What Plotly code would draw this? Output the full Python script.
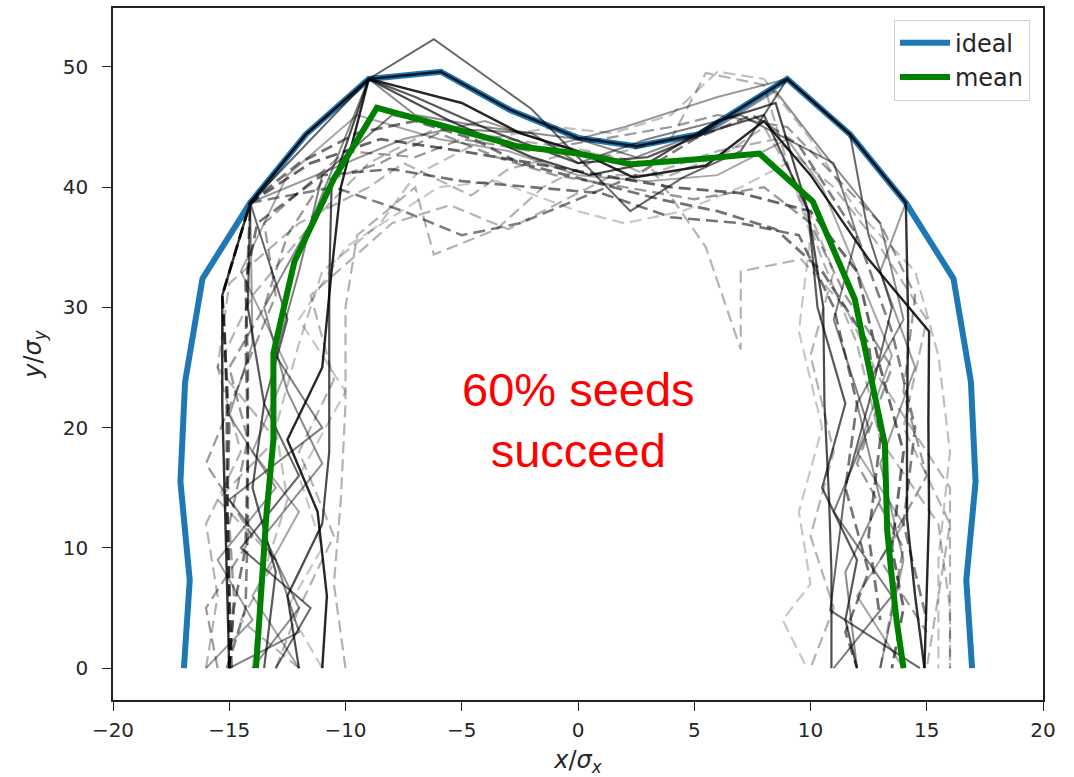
import plotly.graph_objects as go

# ---------------- data ----------------
ideal_x = [-16.95, -16.7, -17.1, -16.9, -16.15, -14.1, -11.7, -9.0, -5.9, -2.9, 0.0,
           2.5, 5.2, 9.0, 11.7, 14.1, 16.15, 16.9, 17.1, 16.7, 16.95]
ideal_y = [0, 7.3, 15.5, 23.8, 32.4, 38.7, 44.4, 49.0, 49.6, 46.4, 44.1,
           43.4, 44.4, 49.0, 44.4, 38.7, 32.4, 23.8, 15.5, 7.3, 0]

mean_x = [-13.85, -13.65, -13.4, -13.1, -13.1, -12.2, -10.5, -8.65, -6.1, -2.6, 0.0,
          2.3, 5.0, 7.8, 10.1, 11.9, 13.2, 13.3, 13.5, 13.7, 14.0]
mean_y = [0, 6.5, 12.8, 19.0, 26.2, 33.8, 40.7, 46.6, 45.2, 43.4, 42.8,
          41.9, 42.3, 42.8, 38.8, 30.7, 18.6, 11.4, 7.5, 4.0, 0]

# successful seeds (solid)
seed_s1_x = [-15.0, -15.1, -15.2, -15.3, -15.3, -14.1, -11.7, -9.0, -5.9, -2.9, 0.0, 2.5, 5.2, 9.0, 11.7, 14.1, 14.2, 14.15, 14.15, 14.5, 14.9]
seed_s1_y = [0, 7, 14, 22, 31, 38.7, 44.4, 49.0, 49.6, 46.4, 44.1, 43.4, 44.4, 49.0, 44.4, 38.7, 29, 20.5, 12.5, 6, 0]
seed_s2_x = [-11.0, -10.8, -11.2, -12.5, -11.0, -10.6, -10.2, -9.0, -5.0, -2.5, 0.0, 2.4, 5.5, 8.0, 10.0, 12.5, 15.1, 15.07, 15.1, 15.0, 14.9]
seed_s2_y = [0, 6, 13, 19, 25, 33, 40, 49.0, 47, 44.5, 43, 40.8, 41.8, 45.5, 41, 34, 28, 20.5, 12.8, 6, 0]
seed_s3_x = [-13.0, -11.5, -14.5, -12.0, -13.5, -12.5, -14.1, -9.0, -6.2, -2.0, 2.25, 4.5, 7.0, 9.0, 11.7, 12.5, 13.5, 12.5, 11.5, 10.85, 14.7]
seed_s3_y = [0, 5, 10, 16, 22, 29, 38.7, 49.0, 52.3, 46.5, 38.0, 40.8, 43, 49.0, 44.4, 36, 30, 22, 15, 4.8, 0]
seed_s4_x = [-14.0, -12.0, -13.5, -11.0, -12.5, -13.5, -11.5, -9.0, -7.0, -4.0, 0.0, 2.5, 6.0, 8.5, 10.5, 13.0, 14.0, 12.0, 13.0, 11.5, 12.0]
seed_s4_y = [0, 5, 11, 17, 23, 30, 37, 49.0, 46, 45, 44, 42.5, 45, 48, 43, 37, 29, 22, 14, 8, 0]
seed_s5_x = [-12.0, -12.5, -11.0, -10.7, -10.7, -10.7, -10.6, -9.0, -5.5, -2.0, 0.5, 3.0, 6.0, 8.5, 9.9, 10.55, 10.6, 10.8, 10.9, 10.9, 10.9]
seed_s5_y = [0, 6, 12, 18, 25, 32, 40, 49.0, 45.5, 42.5, 41, 42, 45.5, 47, 38, 30, 22, 14, 8, 3, 0]
seed_s6_x = [-16.0, -14.0, -15.5, -13.0, -15.0, -14.0, -14.1, -10.0, -7.5, -4.0, -1.0, 2.0, 6.0, 9.0, 11.7, 14.1, 13.0, 14.5, 13.0, 14.0, 13.0]
seed_s6_y = [0, 4, 9, 15, 21, 27, 38.7, 42, 44, 45.5, 43.5, 45, 47.5, 49.0, 44.4, 38.7, 33, 25, 17, 9, 0]
seed_s7_x = [-15.0, -12.0, -13.0, -15.0, -11.0, -13.0, -12.0, -11.0, -8.0, -5.0, -2.0, 0.0, 3.0, 7.0, 11.0, 12.0, 11.0, 12.5, 11.0, 13.5, 11.0]
seed_s7_y = [0, 3, 9, 14, 20, 26, 33, 41, 46, 44.8, 44.5, 42, 44, 46, 42, 36, 29, 20, 13, 6, 0]
seed_s8_x = [-12.0, -14.0, -12.0, -14.0, -12.5, -14.5, -12.5, -9.5, -6.0, -3.0, 0.0, 3.0, 6.0, 9.0, 10.5, 12.0, 13.5, 12.0, 14.0, 12.0, 14.0]
seed_s8_y = [0, 6, 13, 18, 25, 33, 41, 46, 44, 43, 41, 40.5, 41, 44, 40, 33, 26, 18, 12, 6, 0]
seed_s9_x = [-13.5, -13.0, -14.0, -13.5, -14.2, -14.1, -11.7, -9.0, -7.0, -3.5, 0.0, 3.0, 5.5, 8.0, 9.9, 10.3, 11.5, 10.5, 12.0, 11.5, 12.0]
seed_s9_y = [0, 8, 15, 22, 30, 38.7, 44.4, 49.0, 47.5, 44.5, 42, 42.5, 44.5, 46, 38, 30, 22, 15, 9, 4, 0]

# failed seeds (dashed)
seed_d1_x = [-15.0, -15.0, -15.1, -15.1, -15.2, -15.3, -14.1, -11.5, -8.5, -5.0, -2.0, 1.0, 4.0, 7.0, 10.0, 12.0, 13.0, 14.0, 13.5, 14.0, 13.5]
seed_d1_y = [0, 7, 15, 22, 28, 31, 38.7, 42, 44, 43, 42, 41, 40, 39.5, 38, 33, 25, 18, 10, 5, 0]
seed_d2_x = [-15.0, -14.8, -14.3, -14.2, -14.2, -14.3, -13.8, -11.0, -8.0, -5.0, -2.0, 1.0, 4.0, 7.0, 9.5, 11.0, 12.0, 11.5, 12.5, 11.5, 12.0]
seed_d2_y = [0, 5, 10, 18, 25, 32, 37, 41, 41.5, 40.5, 40, 39.5, 37.5, 37, 36, 30, 22, 15, 8, 3, 0]
seed_d3_x = [-10.0, -10.5, -10.2, -10.0, -10.0, -9.5, -7.0, -6.2, -3.5, -1.5, 1.0, 4.0, 5.5, 8.0, 9.0, 10.5, 12.0, 13.0, 15.5, 16.0, 16.0]
seed_d3_y = [0, 7, 14, 22, 30, 36, 40, 34.4, 36.5, 40, 42.5, 44, 49.5, 48.5, 42, 34, 27, 19, 12, 5, 0]
seed_d4_x = [-16.0, -15.5, -16.0, -14.5, -15.5, -15.0, -12.0, -9.0, -7.5, -4.6, -3.0, 0.0, 3.0, 5.5, 7.0, 7.0, 9.6, 11.5, 13.0, 16.0, 16.0]
seed_d4_y = [0, 6, 12, 18, 25, 32, 37, 40, 42, 39.3, 41.5, 43, 42, 35, 26.5, 33, 34, 30, 24, 15, 0]
seed_d5_x = [-14.0, -13.5, -12.5, -13.0, -12.0, -11.0, -8.5, -7.0, -4.0, -1.0, 1.5, 4.0, 6.0, 8.0, 10.0, 12.0, 14.5, 15.5, 16.0, 15.5, 15.5]
seed_d5_y = [0, 8, 14, 20, 27, 33, 37, 41, 44, 45, 44.5, 46, 49.6, 49, 44, 38, 33, 26, 18, 9, 0]
seed_d6_x = [-13.0, -12.0, -10.5, -12.0, -10.5, -11.5, -8.0, -5.5, -3.0, -1.0, 1.5, 4.0, 6.5, 8.0, 9.5, 11.0, 10.0, 11.0, 10.0, 11.0, 10.0]
seed_d6_y = [0, 5, 11, 18, 24, 31, 37, 38.5, 36.5, 38.5, 41, 41, 43, 45, 40, 33, 26, 18, 11, 5, 0]
seed_d7_x = [-15.5, -16.0, -14.0, -16.0, -14.5, -13.0, -13.5, -10.0, -7.0, -5.0, -2.0, 1.0, 4.0, 6.0, 9.0, 13.0, 14.5, 14.0, 15.0, 13.0, 15.0]
seed_d7_y = [0, 5, 11, 17, 24, 31, 37, 43, 42.5, 44, 43, 44, 45, 46, 45, 37, 31, 23, 16, 9, 3]
seed_d8_x = [-11.0, -12.5, -11.0, -12.0, -10.0, -12.0, -10.0, -6.0, -3.5, 0.0, 2.0, 4.5, 7.0, 9.0, 10.0, 9.5, 10.5, 9.5, 10.0, 8.8, 9.85]
seed_d8_y = [0, 5, 10, 16, 23, 29, 35, 40, 40.5, 38, 37, 38, 40, 42, 36, 28, 20, 13, 7, 4, 0]
seed_d9_x = [-12.0, -14.5, -13.0, -15.5, -13.0, -15.5, -14.0, -11.0, -9.0, -6.0, -3.0, 0.5, 3.0, 6.0, 8.5, 11.0, 13.0, 15.0, 14.0, 16.0, 15.0]
seed_d9_y = [0, 4, 9, 14, 19, 25, 31, 38, 42, 45, 44, 43, 41, 43, 44, 40, 35, 29, 20, 12, 0]
seed_d10_x = [-15.0, -14.8, -15.0, -14.2, -15.0, -13.5, -12.5, -11.0, -8.5, -6.0, -3.5, -1.0, 2.0, 5.0, 8.0, 10.0, 11.5, 13.5, 12.0, 14.0, 13.0]
seed_d10_y = [0, 6, 12, 19, 25, 30, 36, 40.5, 42, 44.5, 42.5, 41, 40, 39, 40, 37, 31, 25, 17, 10, 0]
seed_d11_x = [-14.9, -15.0, -15.1, -15.0, -15.2, -15.3, -14.1, -12.0, -9.5, -7.0, -4.5, -2.5, 0.5, 3.5, 6.0, 8.5, 10.5, 12.5, 13.0, 12.5, 13.0]
seed_d11_y = [0, 6, 13, 20, 27, 31, 38.7, 42, 44.5, 45.5, 44, 42, 40.5, 39, 38, 36.5, 33, 27, 19, 11, 4]
seed_d12_x = [-15.1, -14.3, -14.2, -14.2, -14.3, -14.2, -14.1, -10.5, -7.5, -5.0, -2.5, 0.0, 2.5, 5.0, 7.5, 9.5, 12.0, 13.5, 14.5, 14.0, 15.0]
seed_d12_y = [0, 5, 12, 20, 27, 34, 38.7, 40, 38, 36, 37, 39, 41, 44, 46, 43.5, 36, 28, 20, 12, 4]

annotation_text = "60% seeds<br>succeed"
x_ticks = [-20, -15, -10, -5, 0, 5, 10, 15, 20]
y_ticks = [0, 10, 20, 30, 40, 50]

# ---------------- styles ----------------
solid_seeds = [
    (seed_s1_x, seed_s1_y, 0.80, 2.4),
    (seed_s2_x, seed_s2_y, 0.85, 2.4),
    (seed_s3_x, seed_s3_y, 0.60, 2.0),
    (seed_s4_x, seed_s4_y, 0.45, 2.0),
    (seed_s5_x, seed_s5_y, 0.70, 2.2),
    (seed_s6_x, seed_s6_y, 0.40, 2.0),
    (seed_s7_x, seed_s7_y, 0.50, 2.0),
    (seed_s8_x, seed_s8_y, 0.35, 2.0),
    (seed_s9_x, seed_s9_y, 0.65, 2.2),
]
dashed_seeds = [
    (seed_d1_x, seed_d1_y, 0.60, 2.8),
    (seed_d2_x, seed_d2_y, 0.55, 2.6),
    (seed_d3_x, seed_d3_y, 0.30, 2.2),
    (seed_d4_x, seed_d4_y, 0.30, 2.2),
    (seed_d5_x, seed_d5_y, 0.25, 2.2),
    (seed_d6_x, seed_d6_y, 0.30, 2.2),
    (seed_d7_x, seed_d7_y, 0.40, 2.2),
    (seed_d8_x, seed_d8_y, 0.22, 2.2),
    (seed_d9_x, seed_d9_y, 0.30, 2.2),
    (seed_d10_x, seed_d10_y, 0.40, 2.4),
    (seed_d11_x, seed_d11_y, 0.55, 2.8),
    (seed_d12_x, seed_d12_y, 0.50, 2.6),
]

fig = go.Figure()

fig.add_trace(go.Scatter(x=ideal_x, y=ideal_y, mode="lines", name="ideal",
                         line=dict(color="#1f77b4", width=6)))

for sx, sy, a, w in dashed_seeds:
    fig.add_trace(go.Scatter(x=sx, y=sy, mode="lines", showlegend=False, hoverinfo="skip",
                             line=dict(color=f"rgba(0,0,0,{a})", width=w, dash="12px,6px")))
for sx, sy, a, w in solid_seeds:
    fig.add_trace(go.Scatter(x=sx, y=sy, mode="lines", showlegend=False, hoverinfo="skip",
                             line=dict(color=f"rgba(0,0,0,{a})", width=w)))

fig.add_trace(go.Scatter(x=mean_x, y=mean_y, mode="lines", name="mean",
                         line=dict(color="#008000", width=6)))

fig.add_annotation(x=0, y=20.6, xref="x", yref="y", text=annotation_text, showarrow=False,
                   xanchor="center", yanchor="middle",
                   font=dict(family="Liberation Sans, Arial", size=47, color="#ff0000"))

axis_common = dict(showline=True, mirror=True, linecolor="#222", linewidth=1.5,
                   ticks="outside", ticklen=9, tickwidth=1.3, tickcolor="#222",
                   showgrid=False, zeroline=False, automargin=False,
                   tickfont=dict(family="DejaVu Sans", size=20, color="#262626"))

fig.update_layout(
    width=1074, height=777,
    margin=dict(l=113, r=31, t=8, b=77),
    paper_bgcolor="white", plot_bgcolor="white",
    xaxis=dict(range=[-20, 20], tickvals=x_ticks, ticklabelstandoff=2,
               title=dict(text="<i>x</i>/<i>σ</i><sub><i>x</i></sub>", standoff=12,
                          font=dict(family="DejaVu Sans", size=24, color="#262626")),
               **axis_common),
    yaxis=dict(range=[-2.65, 54.9], tickvals=y_ticks, ticklabelstandoff=10,
               title=dict(text="<i>y</i>/<i>σ</i><sub><i>y</i></sub>", standoff=14,
                          font=dict(family="DejaVu Sans", size=24, color="#262626")),
               **axis_common),
    legend=dict(x=0.986, y=0.983, xanchor="right", yanchor="top",
                bgcolor="rgba(255,255,255,0.8)", bordercolor="#d0d0d0", borderwidth=1,
                font=dict(family="DejaVu Sans", size=24, color="#262626"),
                tracegroupgap=4, itemwidth=50),
    showlegend=True,
)

fig.write_html("out.html")
